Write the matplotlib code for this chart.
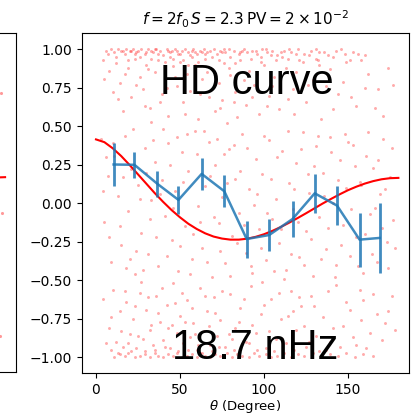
import matplotlib
matplotlib.use("Agg")
import matplotlib.pyplot as plt

# binned correlation (blue errorbar line)
bin_theta = [10.5, 22.9, 36.6, 49.1, 62.9, 76.4, 89.7, 103.1, 117.0, 130.2, 143.5, 156.9, 168.8]
bin_corr = [0.252, 0.25, 0.126, 0.022, 0.191, 0.078, -0.232, -0.206, -0.102, 0.065, -0.015, -0.236, -0.225]
bin_err = [0.14, 0.085, 0.085, 0.09, 0.105, 0.105, 0.12, 0.107, 0.118, 0.125, 0.127, 0.175, 0.227]

# HD curve (red), read at 5 degree steps
hd_theta = [0, 5, 10, 15, 20, 25, 30, 35, 40, 45, 50, 55, 60, 65, 70, 75, 80, 85, 90,
            95, 100, 105, 110, 115, 120, 125, 130, 135, 140, 145, 150, 155, 160, 165, 170, 175, 180]
hd_corr = [0.415, 0.397, 0.357, 0.307, 0.249, 0.188, 0.127, 0.066, 0.009, -0.044, -0.091, -0.133,
           -0.167, -0.195, -0.216, -0.229, -0.236, -0.236, -0.230, -0.218, -0.201, -0.179, -0.154,
           -0.126, -0.096, -0.065, -0.033, -0.001, 0.029, 0.058, 0.085, 0.108, 0.128, 0.144, 0.156,
           0.163, 0.165]

# pulsar pair correlations (faint red dots)
top_band = [(6, 0.99), (9, 1.0), (11, 0.98), (13, 1.0), (15, 0.99), (17, 0.97), (18, 1.0), (20, 0.99),
            (22, 1.0), (24, 0.98), (25, 0.99), (27, 1.0), (29, 0.97), (31, 1.0), (33, 0.99), (34, 0.98),
            (36, 1.0), (38, 0.99), (40, 0.96), (42, 1.0), (44, 0.98), (45, 0.99), (47, 1.0), (49, 0.97),
            (51, 0.99), (53, 1.0), (55, 0.98), (57, 0.99), (58, 1.0), (60, 0.97), (62, 0.99), (64, 1.0),
            (66, 0.98), (68, 0.99), (70, 1.0), (72, 0.97), (74, 0.99), (77, 0.98), (79, 1.0), (82, 0.99),
            (85, 0.97), (88, 1.0), (90, 0.98), (93, 0.99), (96, 0.97), (99, 1.0), (102, 0.98), (105, 0.99),
            (108, 0.96), (112, 0.99), (116, 0.98), (120, 1.0), (124, 0.97), (128, 0.99), (133, 0.98),
            (138, 0.96), (143, 0.99), (148, 0.97), (153, 0.98), (160, 0.96), (21, 0.99), (35, 1.0),
            (48, 0.99), (63, 0.98), (76, 1.0), (87, 0.99), (101, 1.0), (115, 1.0), (131, 1.0), (146, 1.0)]
upper_zone = [(4, 0.93), (8, 0.86), (12, 0.91), (14, 0.78), (19, 0.88), (21, 0.69), (23, 0.94), (26, 0.82),
              (28, 0.74), (30, 0.9), (32, 0.62), (35, 0.85), (37, 0.93), (39, 0.71), (41, 0.8), (43, 0.57),
              (46, 0.89), (48, 0.76), (50, 0.92), (52, 0.66), (54, 0.84), (56, 0.73), (59, 0.9), (61, 0.55),
              (63, 0.81), (65, 0.94), (67, 0.69), (69, 0.87), (71, 0.6), (73, 0.78), (76, 0.91), (78, 0.52),
              (80, 0.83), (83, 0.72), (86, 0.93), (89, 0.64), (91, 0.86), (94, 0.77), (97, 0.58), (100, 0.9),
              (103, 0.7), (106, 0.82), (109, 0.61), (113, 0.88), (117, 0.74), (121, 0.93), (125, 0.66),
              (129, 0.8), (134, 0.55), (139, 0.87), (144, 0.71), (149, 0.92), (155, 0.63), (162, 0.84),
              (168, 0.74), (174, 0.88), (16, 0.6), (33, 0.53), (57, 0.95), (75, 0.67), (98, 0.95),
              (118, 0.58), (137, 0.76), (158, 0.93), (171, 0.57), (10, 0.72), (44, 0.95), (84, 0.56),
              (111, 0.95), (131, 0.94),
              (7, 0.97), (12, 0.95), (16, 0.99), (19, 0.93), (23, 0.97), (26, 0.95), (30, 0.98), (33, 0.94),
              (37, 0.97), (41, 0.92), (43, 0.99), (46, 0.94), (50, 0.97), (52, 0.93), (56, 0.96), (59, 0.98),
              (61, 0.92), (65, 0.97), (69, 0.95), (73, 0.93), (75, 0.98), (80, 0.95), (83, 0.91), (86, 0.98),
              (92, 0.94), (95, 0.99), (98, 0.92), (104, 0.96), (107, 0.93), (110, 0.98), (114, 0.94),
              (119, 0.97), (123, 0.92), (127, 0.96), (132, 0.93), (136, 0.98), (141, 0.95), (151, 0.93),
              (156, 0.97), (5, 0.81), (13, 0.68), (17, 0.84), (24, 0.77), (29, 0.63), (31, 0.87), (38, 0.66),
              (42, 0.75), (47, 0.82), (53, 0.58), (55, 0.9), (62, 0.71), (66, 0.85), (70, 0.76), (74, 0.62),
              (79, 0.88), (82, 0.66), (88, 0.8), (93, 0.69), (96, 0.84), (102, 0.63), (105, 0.76), (114, 0.68),
              (119, 0.85), (126, 0.77), (133, 0.9), (141, 0.61), (147, 0.79), (152, 0.69), (160, 0.75),
              (166, 0.62), (177, 0.77)]
middle_zone = [(3, 0.42), (5, -0.12), (7, 0.18), (9, -0.38), (11, 0.31), (13, 0.05), (15, -0.27), (17, 0.44),
               (19, -0.05), (21, 0.22), (23, -0.46), (25, 0.12), (27, -0.19), (29, 0.36), (31, -0.33),
               (33, 0.02), (35, 0.27), (37, -0.41), (39, 0.15), (41, -0.08), (43, 0.39), (45, -0.24),
               (47, 0.08), (49, -0.44), (51, 0.33), (53, -0.15), (55, 0.21), (57, -0.36), (59, 0.47),
               (61, -0.02), (63, -0.29), (65, 0.11), (67, 0.4), (69, -0.48), (71, 0.25), (73, -0.13),
               (75, 0.04), (77, -0.39), (79, 0.35), (81, -0.21), (83, 0.16), (85, -0.06), (87, 0.45),
               (89, -0.32), (91, 0.09), (93, -0.45), (95, 0.29), (97, -0.17), (99, 0.19), (101, -0.37),
               (103, 0.41), (105, -0.1), (107, 0.03), (109, -0.26), (111, 0.34), (113, -0.43), (115, 0.13),
               (117, -0.04), (119, 0.26), (121, -0.35), (123, 0.46), (125, -0.18), (127, 0.07), (129, -0.47),
               (131, 0.37), (133, -0.09), (135, 0.2), (137, -0.3), (139, 0.43), (141, 0.0), (143, -0.4),
               (145, 0.28), (147, -0.14), (149, 0.1), (151, -0.34), (153, 0.38), (155, -0.22), (157, 0.14),
               (159, -0.45), (161, 0.31), (163, -0.07), (165, 0.23), (167, -0.38), (169, 0.06), (171, 0.42),
               (173, -0.25), (175, 0.17), (177, -0.11), (6, 0.3), (24, -0.31), (40, 0.48), (58, -0.2),
               (76, 0.32), (94, -0.01), (112, -0.49), (130, 0.24), (148, 0.45), (166, -0.03), (18, -0.42),
               (54, 0.45),
               (4, 0.08), (8, -0.22), (10, 0.39), (14, -0.15), (16, 0.17), (20, -0.36), (22, 0.48), (26, 0.03),
               (28, -0.43), (30, 0.2), (32, -0.1), (34, 0.41), (36, -0.22), (38, 0.06), (42, -0.34), (44, 0.25),
               (46, -0.03), (48, 0.43), (50, -0.28), (52, 0.14), (56, -0.46), (60, 0.32), (62, -0.12),
               (64, 0.47), (66, -0.38), (68, 0.18), (70, -0.09), (72, 0.42), (74, -0.31), (78, 0.13),
               (80, -0.47), (82, 0.38), (84, -0.26), (86, 0.21), (88, -0.14), (90, 0.36), (92, -0.41),
               (96, 0.06), (98, -0.29), (100, 0.44), (102, -0.06), (104, 0.16), (106, -0.44), (108, 0.3),
               (110, -0.17), (114, 0.47), (116, -0.33), (118, 0.09), (120, -0.12), (122, 0.35), (124, -0.4),
               (126, 0.19), (128, -0.23), (132, 0.44), (134, -0.36), (136, 0.05), (138, -0.16), (140, 0.33),
               (142, -0.48), (144, 0.15), (146, -0.27), (150, 0.4), (152, -0.04), (154, 0.24), (156, -0.41),
               (158, 0.12), (160, -0.2), (162, 0.46), (164, -0.33), (168, 0.28), (170, -0.16), (172, 0.09),
               (174, -0.42), (176, 0.36), (178, -0.29)]
lower_zone = [(4, -0.62), (8, -0.81), (10, -0.56), (12, -0.9), (14, -0.7), (16, -0.93), (18, -0.64),
              (20, -0.85), (22, -0.75), (24, -0.94), (26, -0.58), (28, -0.88), (30, -0.69), (32, -0.82),
              (34, -0.92), (36, -0.6), (38, -0.77), (40, -0.89), (42, -0.66), (44, -0.94), (46, -0.52),
              (48, -0.84), (50, -0.73), (52, -0.91), (54, -0.63), (56, -0.87), (58, -0.78), (60, -0.95),
              (62, -0.55), (64, -0.83), (66, -0.7), (68, -0.92), (70, -0.61), (72, -0.86), (74, -0.76),
              (77, -0.93), (80, -0.59), (83, -0.81), (86, -0.68), (89, -0.9), (92, -0.54), (95, -0.84),
              (98, -0.72), (101, -0.94), (104, -0.62), (107, -0.88), (110, -0.75), (113, -0.91), (116, -0.57),
              (119, -0.82), (122, -0.67), (125, -0.93), (128, -0.6), (131, -0.86), (135, -0.74), (139, -0.9),
              (143, -0.53), (147, -0.8), (151, -0.69), (155, -0.92), (159, -0.63), (163, -0.84), (167, -0.72),
              (172, -0.78), (176, -0.6), (9, -0.95), (27, -0.51), (45, -0.79), (63, -0.97), (81, -0.88),
              (99, -0.51), (117, -0.7), (137, -0.95), (157, -0.56), (21, -0.96),
              (6, -0.91), (9, -0.74), (13, -0.97), (15, -0.83), (17, -0.57), (19, -0.91), (23, -0.67),
              (25, -0.86), (29, -0.96), (31, -0.61), (33, -0.79), (35, -0.95), (37, -0.71), (39, -0.55),
              (41, -0.93), (43, -0.81), (47, -0.65), (49, -0.96), (51, -0.58), (53, -0.77), (55, -0.95),
              (57, -0.68), (59, -0.85), (61, -0.92), (65, -0.6), (67, -0.8), (69, -0.96), (71, -0.71),
              (73, -0.93), (75, -0.57), (79, -0.85), (82, -0.95), (85, -0.77), (88, -0.62), (91, -0.91),
              (93, -0.79), (96, -0.95), (100, -0.66), (103, -0.83), (106, -0.96), (109, -0.58), (111, -0.88),
              (114, -0.73), (118, -0.95), (121, -0.61), (124, -0.8), (127, -0.9), (130, -0.67), (133, -0.96),
              (138, -0.57), (141, -0.81), (145, -0.93), (149, -0.64), (153, -0.87), (158, -0.76), (161, -0.94),
              (165, -0.59), (170, -0.89), (174, -0.7), (178, -0.82)]
bottom_band = [(11, -1.0), (14, -0.98), (17, -0.99), (19, -0.97), (23, -1.0), (26, -0.99), (29, -0.98),
               (32, -1.0), (35, -0.97), (37, -0.99), (40, -1.0), (43, -0.98), (46, -0.99), (48, -0.97),
               (51, -1.0), (54, -0.99), (57, -0.98), (60, -1.0), (62, -0.97), (65, -0.99), (68, -1.0),
               (71, -0.98), (74, -0.99), (78, -0.97), (81, -1.0), (84, -0.98), (87, -0.99), (91, -1.0),
               (94, -0.97), (97, -0.99), (101, -0.98), (104, -1.0), (108, -0.99), (112, -0.97), (116, -1.0),
               (120, -0.98), (124, -0.99), (129, -0.97), (134, -1.0), (139, -0.98), (144, -0.99),
               (149, -0.97), (154, -1.0), (159, -0.98), (165, -0.99)]

# the few dots visible at the right edge of the neighbouring panel
left_theta = [177.5, 178.0, 177.0]
left_corr = [0.71, -0.067, -0.87]

title = r"$f = 2f_0\,S = 2.3\,\mathrm{PV} = 2\times10^{-2}$"

W, H = 413, 415
fig = plt.figure(figsize=(W / 100, H / 100), dpi=100)

# neighbouring panel, only its right edge is in view
ax0 = fig.add_axes([-311.6 / W, 1 - 372 / H, 327.6 / W, 339 / H])
ax0.set_xlim(-8.5, 186.5)
ax0.set_ylim(-1.104, 1.104)
ax0.plot(hd_theta[-2:], hd_corr[-2:], color="red", lw=1.5)
ax0.scatter(left_theta, left_corr, s=5, color="red", alpha=0.4, lw=0)
ax0.set_xticks([])
ax0.set_yticks([])

ax = fig.add_axes([81.7 / W, 1 - 373.3 / H, 327.6 / W, 340 / H])
pts = top_band + upper_zone + middle_zone + lower_zone + bottom_band
ax.scatter([p[0] for p in pts], [p[1] for p in pts], s=4.5, color="red", alpha=0.33, lw=0, zorder=1)
ax.plot(hd_theta, hd_corr, color="red", lw=1.5, zorder=2)
ax.errorbar(bin_theta, bin_corr, yerr=bin_err, color="#1f77b4", lw=1.8, elinewidth=2.0,
            alpha=0.85, zorder=3)
ax.set_xlim(-8.5, 186.5)
ax.set_ylim(-1.104, 1.104)
ax.set_xticks([0, 50, 100, 150])
ax.set_yticks([-1.0, -0.75, -0.5, -0.25, 0.0, 0.25, 0.5, 0.75, 1.0])
ax.set_yticklabels(["\u22121.00", "\u22120.75", "\u22120.50", "\u22120.25", "0.00", "0.25", "0.50", "0.75", "1.00"])
ax.tick_params(labelsize=10)
ax.set_xlabel(r"$\theta$ (Degree)", fontsize=9.5, labelpad=1)
ax.set_title(title, fontsize=11, pad=6)

fig.text(160 / W, 1 - 93.5 / H, "HD curve", fontsize=30, family="Liberation Sans",
         ha="left", va="baseline")
fig.text(172 / W, 1 - 359 / H, "18.7 nHz", fontsize=30, family="Liberation Sans",
         ha="left", va="baseline")

fig.savefig("out.png", dpi=100)
